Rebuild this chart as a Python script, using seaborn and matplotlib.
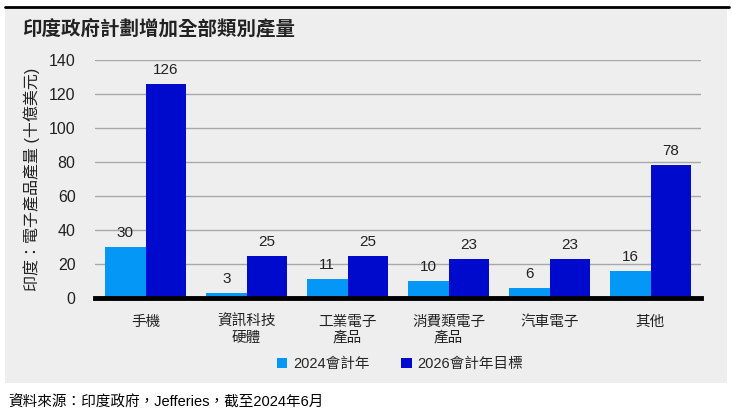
import matplotlib
matplotlib.use("Agg")
import matplotlib.pyplot as plt
import pandas as pd
import seaborn as sns

# --- dados ---
categorias = ["手機", "資訊科技\n硬體", "工業電子\n產品", "消費類電子\n產品", "汽車電子", "其他"]
series = ["2024會計年", "2026會計年目標"]
valores_2024 = [30, 3, 11, 10, 6, 16]
valores_2026 = [126, 25, 25, 23, 23, 78]
yticks = [0, 20, 40, 60, 80, 100, 120, 140]

CORES = ["#0597F5", "#000ACD"]
FUNDO = "#EEEEEE"

df = pd.DataFrame({
    "categoria": categorias * 2,
    "serie": [series[0]] * len(categorias) + [series[1]] * len(categorias),
    "valor": valores_2024 + valores_2026,
})

sns.set_theme(style="white")
# dígitos em fonte tipo Arial, CJK via fallback
plt.rcParams["font.family"] = ["Liberation Sans", "Noto Sans CJK TC", "DejaVu Sans"]

fig = plt.figure(figsize=(7.32, 4.13), dpi=100)
fig.patch.set_facecolor("white")

W, H = 732, 413
# painel cinza + linha preta no topo
painel = plt.Rectangle((5 / W, 1 - 383 / H), 722 / W, 375 / H,
                       transform=fig.transFigure, facecolor=FUNDO,
                       edgecolor="none", zorder=-10)
fig.add_artist(painel)
fig.add_artist(plt.Line2D([5 / W, 729 / W], [1 - 6.5 / H, 1 - 6.5 / H],
                          transform=fig.transFigure, color="black", lw=2))

ax = fig.add_axes([95 / W, 1 - 298 / H, 606 / W, 238 / H])
ax.set_facecolor(FUNDO)

sns.barplot(data=df, x="categoria", y="valor", hue="serie",
            palette=CORES, width=0.8, saturation=1, linewidth=0,
            ax=ax, zorder=3)

for cont in ax.containers:
    ax.bar_label(cont, fmt="%d", padding=5, fontsize=11, color="#222222")

ax.set_ylim(0, 140)
ax.set_yticks(yticks)
ax.set_xlim(-0.5, len(categorias) - 0.5)
ax.grid(axis="y", color="#A8A8A8", lw=1, zorder=0)
for lado in ["top", "right", "left"]:
    ax.spines[lado].set_visible(False)
ax.spines["bottom"].set_color("black")
ax.spines["bottom"].set_linewidth(3.5)
ax.spines["bottom"].set_zorder(5)
ax.tick_params(axis="y", length=0, pad=14, labelsize=11.5, labelcolor="#222222")
ax.tick_params(axis="x", length=0, pad=12, labelsize=10.5, labelcolor="#222222")
ax.set_xlabel("")
ax.set_ylabel("印度：電子產品產量 (十億美元)", fontsize=11.5, color="#222222",
              labelpad=6)

ax.legend(loc="center", bbox_to_anchor=(400 / W, 1 - 364 / H),
          bbox_transform=fig.transFigure, ncol=2, frameon=False,
          fontsize=10.5, handlelength=0.7, handleheight=0.7,
          columnspacing=2.2, handletextpad=0.4)

fig.text(22 / W, 1 - 28 / H, "印度政府計劃增加全部類別產量", fontsize=14,
         fontweight="bold", color="#222222", va="center", ha="left")
fig.text(8 / W, 1 - 403 / H, "資料來源：印度政府，Jefferies，截至2024年6月",
         fontsize=10.5, color="black", va="center", ha="left")

fig.savefig("out.png", dpi=100)
